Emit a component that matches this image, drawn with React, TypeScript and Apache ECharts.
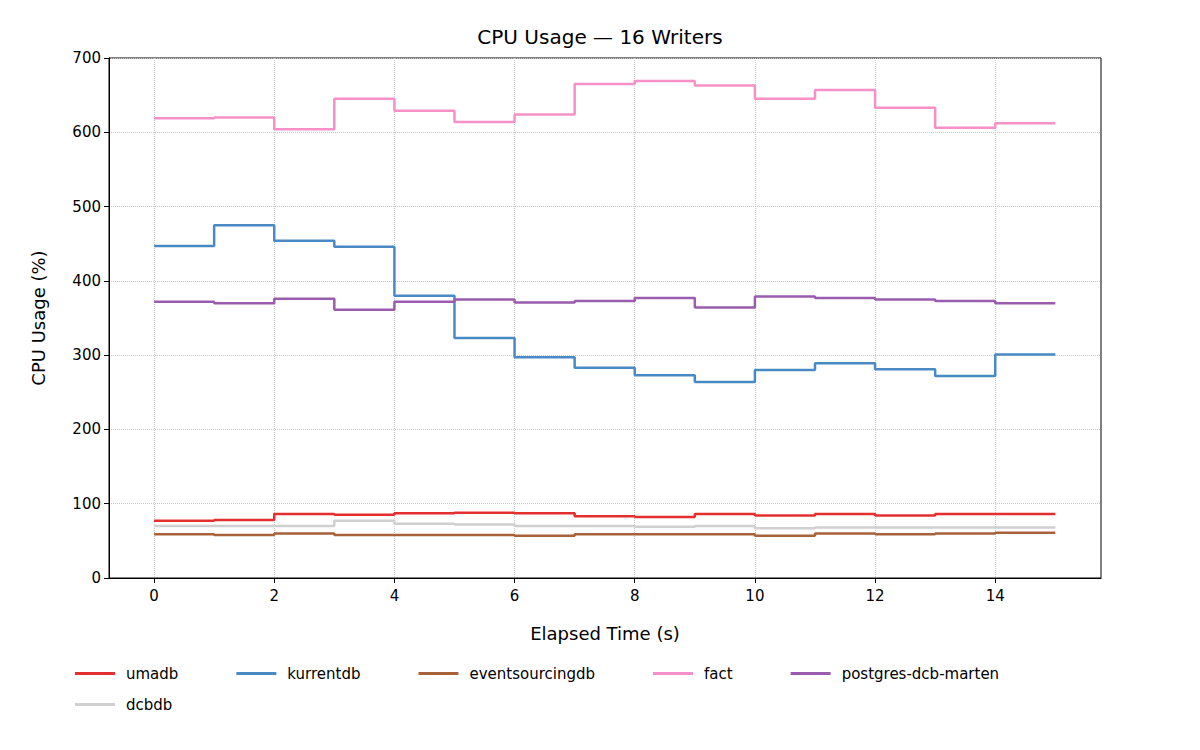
import React, { useEffect, useRef } from "react";
import * as echarts from "echarts";

const seconds = [0, 1, 2, 3, 4, 5, 6, 7, 8, 9, 10, 11, 12, 13, 14, 15];
const umadb = [77, 78, 86, 85, 87, 88, 87, 83, 82, 86, 84, 86, 84, 86, 86, 86];
const kurrentdb = [447, 475, 454, 446, 380, 323, 297, 283, 273, 264, 280, 289, 281, 272, 301, 301];
const eventsourcingdb = [59, 58, 60, 58, 58, 58, 57, 59, 59, 59, 57, 60, 59, 60, 61, 61];
const fact = [619, 620, 604, 645, 629, 614, 624, 665, 669, 663, 645, 657, 633, 606, 612, 612];
const postgresDcbMarten = [372, 370, 376, 361, 372, 375, 371, 373, 377, 364, 379, 377, 375, 373, 370, 370];
const dcbdb = [70, 70, 70, 77, 73, 72, 70, 70, 69, 70, 67, 68, 68, 68, 68, 68];
const xTicks = [0, 2, 4, 6, 8, 10, 12, 14];

const seriesDefs = [
  { name: "umadb", data: umadb, color: "#e3302f" },
  { name: "kurrentdb", data: kurrentdb, color: "#4a8ac4" },
  { name: "eventsourcingdb", data: eventsourcingdb, color: "#a8623a" },
  { name: "fact", data: fact, color: "#f590c8" },
  { name: "postgres-dcb-marten", data: postgresDcbMarten, color: "#9b5caf" },
  { name: "dcbdb", data: dcbdb, color: "#d0d0d0" },
];

const font = "DejaVu Sans";

const App: React.FC = () => {
  const ref = useRef<HTMLDivElement>(null);

  useEffect(() => {
    if (!ref.current) return;
    const chart = echarts.init(ref.current, undefined, { renderer: "svg" });
    const grid = { type: "dotted", color: "#c8c8c8", width: 1 };
    const legendBase = {
      itemWidth: 40,
      itemHeight: 3,
      itemGap: 58,
      icon: "rect",
      textStyle: { fontSize: 15, color: "#000", fontFamily: font, padding: [0, 0, 0, 6] },
    };
    chart.setOption({
      animation: false,
      textStyle: { fontFamily: font },
      title: {
        text: "CPU Usage — 16 Writers",
        left: "center",
        top: 14,
        textStyle: { fontFamily: font, fontSize: 20, fontWeight: "normal", color: "#000" },
      },
      grid: { left: 101, right: 91, top: 50, bottom: 164, show: true, borderColor: "#000", borderWidth: 1 },
      xAxis: {
        type: "value",
        min: -0.75,
        max: 15.76,
        name: "Elapsed Time (s)",
        nameLocation: "middle",
        nameGap: 46,
        nameTextStyle: { fontSize: 18, color: "#000", fontFamily: font },
        axisLine: { show: true, onZero: false, lineStyle: { color: "#000" } },
        axisTick: { show: true, customValues: xTicks, lineStyle: { color: "#000" } },
        axisLabel: { customValues: xTicks, fontSize: 15, color: "#000", margin: 10 },
        splitLine: { show: true, lineStyle: grid },
      },
      yAxis: {
        type: "value",
        min: 0,
        max: 700,
        interval: 100,
        name: "CPU Usage (%)",
        nameLocation: "middle",
        nameGap: 62,
        nameTextStyle: { fontSize: 18, color: "#000", fontFamily: font },
        axisLine: { show: true, onZero: false, lineStyle: { color: "#000" } },
        axisTick: { show: true, lineStyle: { color: "#000" } },
        axisLabel: { fontSize: 15, color: "#000" },
        splitLine: { show: true, lineStyle: grid },
      },
      legend: [
        { ...legendBase, left: 62, top: 653, data: seriesDefs.slice(0, 5).map((s) => s.name) },
        { ...legendBase, left: 62, top: 684, data: [seriesDefs[5].name] },
      ],
      series: seriesDefs.map((s) => ({
        name: s.name,
        type: "line",
        step: "end",
        data: seconds.map((x, i) => [x, s.data[i]]),
        showSymbol: false,
        color: s.color,
        lineStyle: { width: 2.5, color: s.color },
      })),
    });
    return () => chart.dispose();
  }, []);

  return <div ref={ref} style={{ width: 1184, height: 734 }} />;
};

export default App;
